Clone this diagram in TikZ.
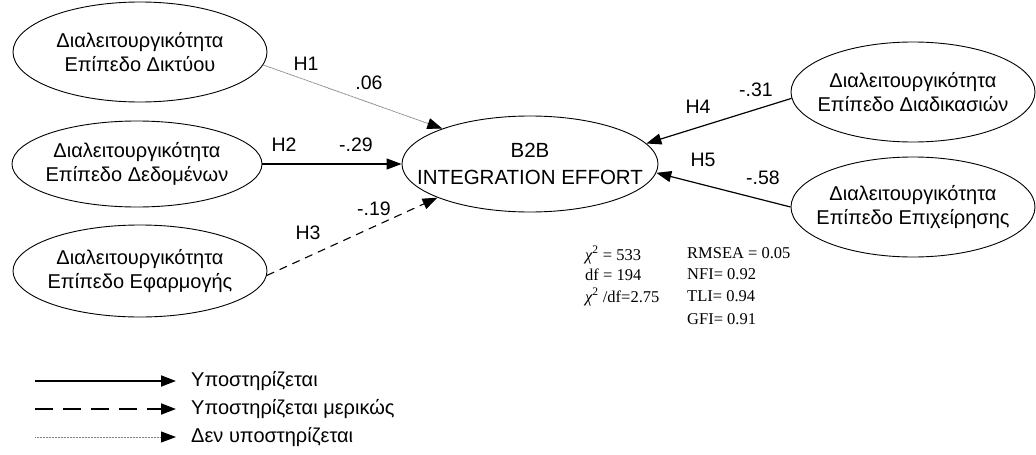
\documentclass[tikz,border=0pt]{standalone}
\usepackage{fontspec}
\setmainfont{Liberation Sans}
\newfontfamily\statfont{Liberation Serif}
\usetikzlibrary{arrows.meta,shapes.geometric}

\tikzset{
  % negative inner sep keeps the ellipse at its minimum size regardless of the text
  construct/.style={draw, ellipse, line width=0.9pt, inner xsep=-45pt, inner ysep=-18pt,
                    align=center, font=\fontsize{20}{24}\selectfont},
  lbl/.style={font=\fontsize{19.5}{22}\selectfont, inner sep=0pt},
  legendtxt/.style={font=\fontsize{20}{22}\selectfont, anchor=west, inner sep=0pt},
  stat/.style={font=\statfont\fontsize{16.5}{18}\selectfont, anchor=west, inner sep=0pt},
  tip/.style={-{Triangle[length=15pt,width=11pt]}},
  supported/.style={tip, line width=1.2pt},
  partial/.style={tip, line width=1.1pt, dash pattern=on 8pt off 6pt},
  rejected/.style={line width=0.8pt, draw=gray, dash pattern=on 1pt off 0.5pt,
                   -{Triangle[length=15pt,width=11pt,color=black,fill=black]}},
}

\begin{document}
\begin{tikzpicture}[x=1pt,y=-1pt]
\useasboundingbox (0,0) rectangle (1036,455);

% constructs
\node[construct, minimum width=254pt, minimum height=100pt] (net) at (140,52)
  {Διαλειτουργικότητα\\Επίπεδο Δικτύου};
\node[construct, minimum width=250pt, minimum height=86pt] (data) at (137,164)
  {Διαλειτουργικότητα\\Επίπεδο Δεδομένων};
\node[construct, minimum width=254pt, minimum height=92pt] (app) at (140,271)
  {Διαλειτουργικότητα\\Επίπεδο Εφαρμογής};
\node[construct, minimum width=256pt, minimum height=96pt,
      font=\fontsize{20.5}{27}\selectfont] (b2b) at (530,164)
  {B2B\\INTEGRATION EFFORT};
\node[construct, minimum width=244pt, minimum height=100pt] (proc) at (913,92)
  {Διαλειτουργικότητα\\Επίπεδο Διαδικασιών};
\node[construct, minimum width=244pt, minimum height=100pt] (biz) at (913,207)
  {Διαλειτουργικότητα\\Επίπεδο Επιχείρησης};

% paths
\draw[rejected]  (net.-6)   -- (b2b.158);
\draw[supported] (data.0)   -- (b2b.180);
\draw[partial]   (app.-2)   -- (b2b.200);
\draw[supported] (proc.183) -- (b2b.10);
\draw[supported] (biz.180)  -- (b2b.-4);

% hypothesis labels and coefficients
\node[lbl] (h1) at (306,64) {H1};
\node[lbl] (c1) at (369,83) {.06};
\node[lbl] (h2) at (284,145) {H2};
\node[lbl] (c2) at (356,145) {-.29};
\node[lbl] (h3) at (308,233) {H3};
\node[lbl] (c3) at (374,209) {-.19};
\node[lbl] (h4) at (698,107) {H4};
\node[lbl] (c4) at (756,90) {-.31};
\node[lbl] (h5) at (703,160) {H5};
\node[lbl] (c5) at (763,178) {-.58};

% fit indices
\node[stat] (s1) at (585,255) {{\itshape χ}\textsuperscript{2} = 533};
\node[stat] (s2) at (585,275) {df = 194};
\node[stat] (s3) at (585,297) {{\itshape χ}\textsuperscript{2} /df=2.75};
\node[stat] (s4) at (687,253) {RMSEA = 0.05};
\node[stat] (s5) at (687,274) {NFI= 0.92};
\node[stat] (s6) at (687,296) {TLI= 0.94};
\node[stat] (s7) at (687,319) {GFI= 0.91};

% legend
\coordinate (la1) at (35,381);  \coordinate (lb1) at (176,381);
\coordinate (la2) at (35,409);  \coordinate (lb2) at (176,409);
\coordinate (la3) at (35,437);  \coordinate (lb3) at (176,437);
\draw[tip, line width=1.8pt] (la1) -- (lb1);
\draw[tip, line width=1.8pt, dash pattern=on 18pt off 10pt] (la2) -- (lb2);
\draw[rejected, line width=1pt] (la3) -- (lb3);
\node[legendtxt] (t1) at (191,381) {Υποστηρίζεται};
\node[legendtxt] (t2) at (191,409) {Υποστηρίζεται μερικώς};
\node[legendtxt] (t3) at (191,437) {Δεν υποστηρίζεται};
\end{tikzpicture}
\end{document}
